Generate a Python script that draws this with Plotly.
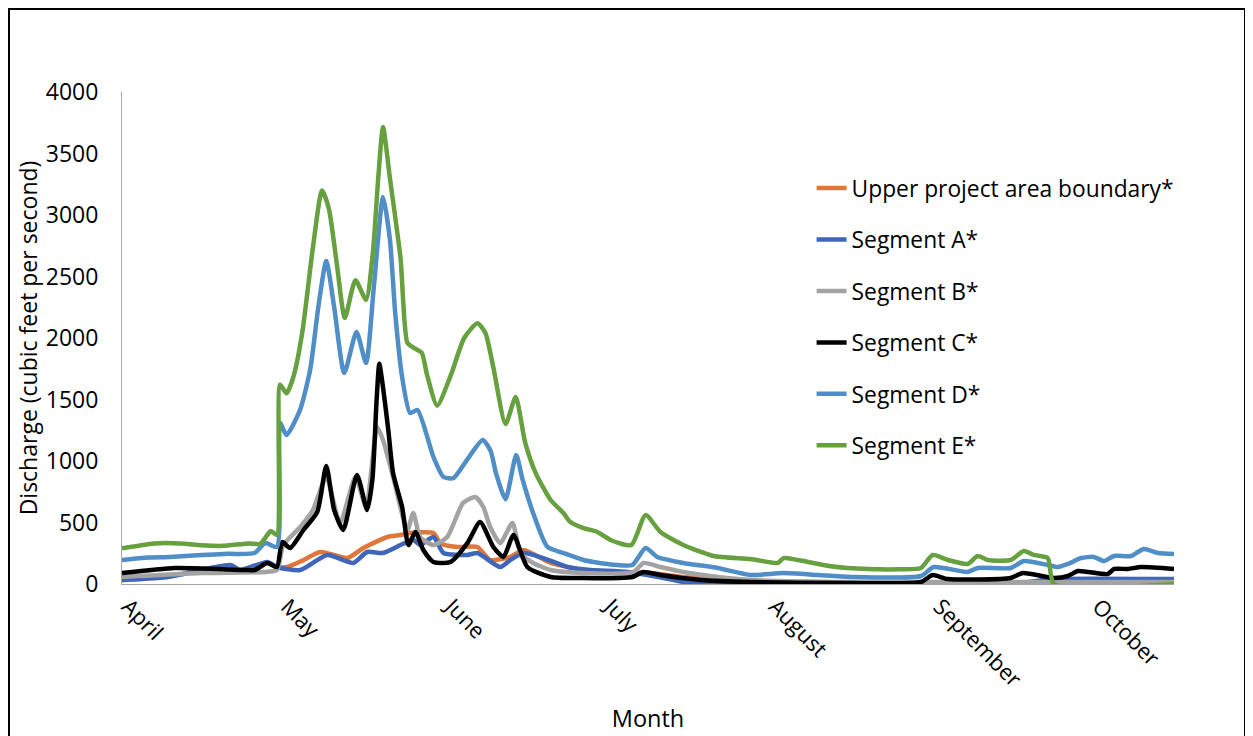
import pandas as pd
import plotly.graph_objects as go

BASE = pd.Timestamp("2021-04-01")

month_ticks = ["2021-04-01", "2021-05-01", "2021-06-01", "2021-07-01",
               "2021-08-01", "2021-09-01", "2021-10-01"]
month_labels = ["April", "May", "June", "July", "August", "September", "October"]
y_ticks = [0, 500, 1000, 1500, 2000, 2500, 3000, 3500, 4000]

# day offsets from April 1 and discharge (cfs)
upper_days = [0, 8.5, 20.4, 22.3, 27.4, 29.2, 31.1, 34, 37.4, 42.5, 45.5, 50, 52.5, 54.3, 58.7, 60,
              63.2, 67, 69.4, 73.2, 75.7, 80.8, 87, 93.4, 99.6, 105.8, 112.3, 120, 150, 198.3]
upper_vals = [33, 57, 150, 114, 175, 138, 138, 190, 260, 211, 293, 382, 398, 415, 415, 333,
              301, 301, 195, 220, 276, 171, 114, 98, 89, 57, 33, 10, 5, 5]

segA_days = [0, 8.5, 20.4, 22.3, 27.4, 29.2, 33.6, 38.7, 43.6, 46.2, 49.2, 52.5, 54.9, 56.2, 58.7,
             60.6, 65.1, 67, 71.3, 73.2, 75.7, 79.4, 84, 88.3, 95.3, 102.1, 105.8, 118.5, 150.6,
             169.8, 175.7, 198.3]
segA_vals = [33, 57, 154, 114, 179, 138, 114, 236, 171, 260, 252, 317, 358, 317, 382,
             252, 236, 252, 138, 195, 252, 211, 138, 114, 98, 49, 16, 5, 8,
             12, 40, 40]

segB_days = [0, 15, 27, 29.2, 30.4, 33.6, 36, 38.5, 41.1, 44, 46, 48.1, 49.2, 51.1, 53.8, 54.9,
             56.2, 58.7, 61.3, 64.3, 66.6, 68.1, 69.4, 71.3, 73.6, 75.1, 77.5, 80.8, 87, 96.4,
             98.3, 101.5, 105.8, 112.3, 118.5, 137.4, 198.3]
segB_vals = [57, 89, 98, 114, 317, 463, 602, 870, 496, 870, 626, 1276, 1171, 870, 439, 577,
             382, 317, 382, 659, 707, 626, 463, 333, 496, 252, 171, 114, 89, 98,
             171, 138, 98, 57, 33, 16, 16]

segC_days = [0, 10, 23, 25, 27.4, 29.2, 30.2, 31.7, 34.2, 36.8, 38.5, 40, 41.7, 44.3, 46.2, 47.2,
             48, 48.5, 49.2, 50.2, 51.1, 52.8, 54, 55.3, 56.8, 58.7, 61.9, 65.1, 67.5, 70,
             71.9, 73.8, 76.4, 80.8, 87, 93.4, 96.2, 98.3, 101.5, 109.1, 118.5, 137.4, 150.6,
             152.8, 155.7, 167.5, 169.8, 175.7, 178.3, 180.2, 185.8, 187, 189.6, 192.1, 198.3]
segC_vals = [89, 130, 114, 114, 171, 138, 341, 293, 439, 585, 960, 600, 439, 886, 602, 850,
             1500, 1790, 1600, 1250, 902, 626, 317, 423, 276, 179, 179, 333, 504, 301,
             220, 398, 138, 57, 49, 49, 57, 98, 73, 33, 16, 8, 16,
             73, 40, 49, 90, 49, 65, 106, 81, 122, 122, 138, 122]

segD_days = [0, 5, 9, 15, 20, 25, 27, 29.2, 29.8, 31, 33.6, 35.5, 37, 38.5, 40, 41.9, 44.2, 46,
             47.5, 49.2, 50.5, 51.5, 52.8, 54.3, 55.7, 58.7, 60.6, 62.5, 65, 68, 69.5, 70.5,
             72.3, 74.3, 75.5, 77.5, 80.2, 83.2, 87, 88.9, 93.4, 96.2, 98.7, 100.9, 105.8,
             112.3, 118.5, 124.7, 131.1, 137.4, 150.6, 153, 159.4, 161.3, 167.5, 170, 174.5,
             176.4, 178.3, 180.8, 183.2, 185.1, 187, 190.2, 192.6, 195.3, 198.3]
segD_vals = [195, 215, 220, 236, 245, 252, 333, 301, 1310, 1211, 1420, 1750, 2250, 2626, 2250, 1715, 2049, 1797,
             2430, 3146, 2800, 2203, 1683, 1390, 1415, 1033, 870, 862, 1008, 1171, 1080, 900,
             690, 1049, 850, 577, 301, 252, 195, 179, 154, 154, 293, 220, 171,
             130, 73, 89, 73, 57, 65, 138, 98, 130, 130, 187, 154,
             138, 163, 211, 220, 187, 228, 228, 285, 252, 244]

segE_days = [0, 6, 11, 15, 19, 24, 26, 27, 28, 29.2, 29.8, 31, 32.3, 34, 36, 37.7, 39, 40.5, 42,
             44, 46, 47.3, 48.3, 49.2, 50.5, 52.5, 53.8, 55, 56.5, 57.5, 59.4, 62, 64.5, 67,
             68.5, 70, 72.3, 74.2, 76, 78, 80.8, 83.2, 84.5, 87, 89.6, 92.1, 96, 98.7, 101.5,
             105.8, 111.5, 118.5, 123.6, 124.7, 127.4, 133.6, 140.6, 146.8, 150.6, 152.8, 155.7,
             159.4, 161.3, 163.2, 167.5, 170, 171.9, 174.5, 175.7, 198.3]
segE_vals = [290, 330, 330, 315, 310, 330, 325, 375, 430, 400, 1620, 1550, 1683, 2050, 2740, 3200, 3050, 2600, 2163,
             2470, 2310, 2700, 3300, 3715, 3300, 2650, 1960, 1920, 1880, 1700, 1450, 1700, 2000, 2120,
             2040, 1760, 1300, 1520, 1150, 900, 683, 577, 504, 455, 423, 358, 317, 560, 423,
             317, 228, 203, 171, 211, 195, 145, 122, 120, 130, 236, 195,
             163, 228, 195, 195, 268, 236, 211, 0, 0]

series_names = ["Upper project area boundary*", "Segment A*", "Segment B*",
                "Segment C*", "Segment D*", "Segment E*"]
series_colors = ["#E0773A", "#3F66B8", "#A3A3A3", "#000000", "#4F8EC6", "#66A03F"]
series_days = [upper_days, segA_days, segB_days, segC_days, segD_days, segE_days]
series_vals = [upper_vals, segA_vals, segB_vals, segC_vals, segD_vals, segE_vals]

FONT = "Open Sans"

fig = go.Figure()
for i, (name, col, d, v) in enumerate(zip(series_names, series_colors, series_days, series_vals)):
    x = [BASE + pd.Timedelta(days=k) for k in d]
    fig.add_trace(go.Scatter(
        x=x, y=v, name=name, mode="lines",
        line=dict(color=col, width=4.5, shape="spline", smoothing=0.6),
        legendgroup="g%d" % i, cliponaxis=False,
    ))

x_end = BASE + pd.Timedelta(days=198.3)

fig.update_layout(
    width=1245, height=728,
    paper_bgcolor="white", plot_bgcolor="white",
    margin=dict(l=114, r=79, t=84, b=152, autoexpand=False),
    font=dict(family=FONT, size=22, color="#000000"),
    showlegend=True,
    legend=dict(x=0.6555, y=0.848, xanchor="left", yanchor="top",
                font=dict(family=FONT, size=22.8, color="#000000"),
                tracegroupgap=18.8, bgcolor="rgba(0,0,0,0)"),
    xaxis=dict(
        type="date", range=[BASE, x_end],
        tickvals=month_ticks, ticktext=month_labels, tickangle=45,
        showgrid=False, zeroline=False,
        showline=True, linecolor="#A6A6A6", linewidth=1,
        ticks="", ticklabelstandoff=0, ticklabelshift=6,
        tickfont=dict(family=FONT, size=22),
        title=dict(text="Month", font=dict(family=FONT, size=23.5), standoff=19),
        automargin=False,
    ),
    yaxis=dict(
        range=[0, 4000], tickvals=y_ticks,
        showgrid=False, zeroline=False,
        showline=True, linecolor="#A6A6A6", linewidth=1,
        ticks="outside", ticklen=18, tickcolor="rgba(0,0,0,0)",
        tickfont=dict(family=FONT, size=23),
        title=dict(text="Discharge (cubic feet per second)", font=dict(family=FONT, size=23), standoff=1),
        automargin=False,
    ),
    shapes=[dict(type="rect", xref="paper", yref="paper",
                 x0=-0.1074, x1=1.0675, y0=-0.45, y1=1.1687,
                 line=dict(color="#000000", width=2), fillcolor="rgba(0,0,0,0)", layer="above")],
)

fig.write_html("out.html")
